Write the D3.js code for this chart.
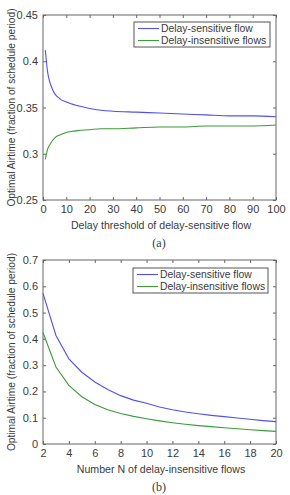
<!DOCTYPE html>
<html>
<head>
<meta charset="utf-8">
<script src="https://cdn.jsdelivr.net/npm/d3@7"></script>
<style>
  body { margin: 0; background: #fff; }
  text { font-family: "Liberation Sans", Arial, sans-serif; fill: #3a3a3a; }
  .cap { font-family: "Liberation Serif", "Times New Roman", serif; }
</style>
</head>
<body>
<div id="chart"></div>
<script>
// (a) delay threshold sweep
const thresholds = [1, 2, 3, 4, 5, 6, 7, 8, 9, 10, 12, 15, 20, 25, 30, 40, 50, 60, 70, 80, 90, 100];
const sensA = [0.412, 0.388, 0.377, 0.370, 0.365, 0.362, 0.360, 0.358, 0.357, 0.356, 0.354, 0.352, 0.349, 0.347, 0.346, 0.345, 0.344, 0.343, 0.342, 0.341, 0.341, 0.340];
const insensA = [0.294, 0.305, 0.310, 0.314, 0.317, 0.319, 0.320, 0.321, 0.322, 0.323, 0.324, 0.325, 0.326, 0.327, 0.327, 0.328, 0.329, 0.329, 0.330, 0.330, 0.330, 0.331];

// (b) number of delay-insensitive flows
const flowsN = [2, 3, 4, 5, 6, 7, 8, 9, 10, 11, 12, 13, 14, 15, 16, 17, 18, 19, 20];
const sensB = [0.573, 0.413, 0.324, 0.273, 0.236, 0.207, 0.184, 0.167, 0.155, 0.141, 0.130, 0.122, 0.115, 0.109, 0.104, 0.099, 0.094, 0.089, 0.085];
const insensB = [0.424, 0.293, 0.223, 0.180, 0.150, 0.130, 0.116, 0.105, 0.096, 0.088, 0.081, 0.075, 0.070, 0.066, 0.062, 0.058, 0.054, 0.051, 0.048];

const ticksA_x = d3.range(0, 101, 10);
const ticksA_y = [0.25, 0.3, 0.35, 0.4, 0.45];
const ticksB_x = d3.range(2, 21, 2);
const ticksB_y = [0, 0.1, 0.2, 0.3, 0.4, 0.5, 0.6, 0.7];

const seriesNames = ["Delay-sensitive flow", "Delay-insensitive flows"];
const colors = ["#5050ee", "#3d9a3d"];
const yTitle = "Optimal Airtime (fraction of schedule period)";

const width = 290, height = 495;
const svg = d3.select("#chart").append("svg")
  .attr("width", width).attr("height", height);

function panel(opt) {
  const x = d3.scaleLinear().domain(opt.xDom).range([43, 276]);
  const y = d3.scaleLinear().domain(opt.yDom).range([opt.bottom, opt.top]);
  const g = svg.append("g");

  // plot box
  g.append("rect")
    .attr("x", 43).attr("y", opt.top)
    .attr("width", 233).attr("height", opt.bottom - opt.top)
    .attr("fill", "none").attr("stroke", "#666").attr("stroke-width", 1);

  // inward ticks on all four sides
  const tl = 3;
  const axes = [
    d3.axisBottom(x).tickValues(opt.xTicks).tickSize(-tl).tickPadding(5),
    d3.axisTop(x).tickValues(opt.xTicks).tickSize(-tl).tickFormat(""),
    d3.axisLeft(y).tickValues(opt.yTicks).tickSize(-tl).tickPadding(5).tickFormat(d3.format("~g")),
    d3.axisRight(y).tickValues(opt.yTicks).tickSize(-tl).tickFormat("")
  ];
  const pos = [
    `translate(0,${opt.bottom})`, `translate(0,${opt.top})`,
    `translate(43,0)`, `translate(276,0)`
  ];
  axes.forEach((ax, i) => {
    const a = g.append("g").attr("transform", pos[i]).call(ax);
    a.select(".domain").remove();
    a.selectAll("line").attr("stroke", "#666");
    a.selectAll("text").style("font-size", "11px").attr("fill", "#3a3a3a");
  });

  // lines
  [opt.s1, opt.s2].forEach((vals, k) => {
    const line = d3.line()
      .x((d, i) => x(opt.xs[i]))
      .y(d => y(d))
      .curve(opt.curve);
    g.append("path").datum(vals)
      .attr("d", line)
      .attr("fill", "none")
      .attr("stroke", colors[k])
      .attr("stroke-width", 1.1);
  });

  // legend
  const lg = g.append("g");
  lg.append("rect")
    .attr("x", opt.leg[0]).attr("y", opt.leg[1])
    .attr("width", opt.leg[2]).attr("height", 25)
    .attr("fill", "#fff").attr("stroke", "#555").attr("stroke-width", 1);
  seriesNames.forEach((name, k) => {
    const ly = opt.leg[1] + 6.5 + k * 12;
    lg.append("line")
      .attr("x1", opt.leg[0] + 4).attr("x2", opt.leg[0] + 25)
      .attr("y1", ly).attr("y2", ly)
      .attr("stroke", colors[k]).attr("stroke-width", 1.1);
    lg.append("text")
      .attr("x", opt.leg[0] + 27).attr("y", ly + 3.5)
      .style("font-size", "10.4px")
      .text(name);
  });

  // titles
  g.append("text")
    .attr("transform", `translate(15,${(opt.top + opt.bottom) / 2}) rotate(-90)`)
    .attr("text-anchor", "middle")
    .style("font-size", "10.2px")
    .text(yTitle);
  g.append("text")
    .attr("x", 161).attr("y", opt.bottom + 29)
    .attr("text-anchor", "middle")
    .style("font-size", "10.6px")
    .text(opt.xTitle);
  g.append("text")
    .attr("class", "cap")
    .attr("x", 159).attr("y", opt.bottom + 47)
    .attr("text-anchor", "middle")
    .style("font-size", "12px")
    .text(opt.cap);
}

panel({
  xDom: [0, 100], yDom: [0.25, 0.45], top: 15, bottom: 200,
  xTicks: ticksA_x, yTicks: ticksA_y,
  xs: thresholds, s1: sensA, s2: insensA, curve: d3.curveMonotoneX,
  leg: [134, 22, 136],
  xTitle: "Delay threshold of delay-sensitive flow", cap: "(a)"
});

panel({
  xDom: [2, 20], yDom: [0, 0.7], top: 260, bottom: 444,
  xTicks: ticksB_x, yTicks: ticksB_y,
  xs: flowsN, s1: sensB, s2: insensB, curve: d3.curveLinear,
  leg: [133, 268, 135],
  xTitle: "Number N of delay-insensitive flows", cap: "(b)"
});
</script>
</body>
</html>
